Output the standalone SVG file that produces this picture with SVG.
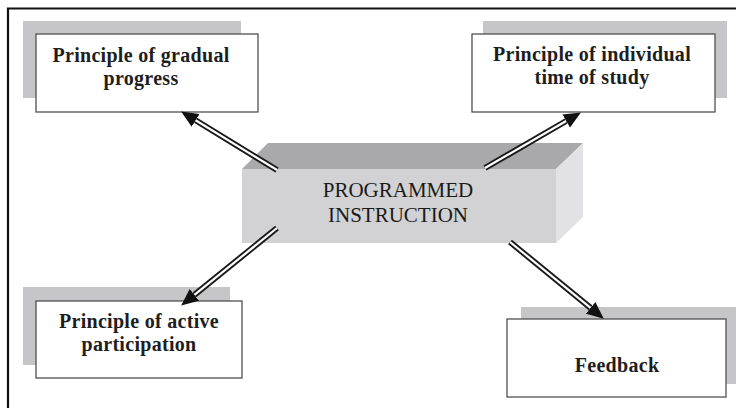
<svg xmlns="http://www.w3.org/2000/svg" width="736" height="408" viewBox="0 0 736 408">
<defs>
<style>
.shadow{fill:#c6c6c8}
.box{fill:#ffffff;stroke:#505050;stroke-width:1.3}
.lbl{font-family:"Liberation Serif","Times New Roman",serif;font-weight:bold;font-size:20px;letter-spacing:0.3px;fill:#1e1e1e;text-anchor:middle}
.ctr{font-family:"Liberation Serif","Times New Roman",serif;font-size:21px;fill:#1a1a1a;text-anchor:middle}
.outer{stroke:#1a1a1a;stroke-width:6;fill:none}
.inner{stroke:#ffffff;stroke-width:2.2;fill:none}
</style>
<marker id="head" markerUnits="userSpaceOnUse" markerWidth="17" markerHeight="16" viewBox="0 -8 17 16" refX="0" refY="0" orient="auto">
<path d="M0,-7.5 L17,0 L0,7.5 z" fill="#111"/>
</marker>
</defs>
<rect width="736" height="408" fill="#ffffff"/>
<path d="M8,408 V8.5 H736" fill="none" stroke="#111" stroke-width="2.2"/>

<g id="center">
<polygon points="242,169 268,143 583,143 556,169" fill="#a9a9ab"/>
<polygon points="556,169 583,143 583,217 556,243" fill="#e2e2e4"/>
<rect x="242" y="169" width="314" height="74" fill="#d2d2d4"/>
<text class="ctr" x="398" y="197">PROGRAMMED</text>
<text class="ctr" x="398" y="222">INSTRUCTION</text>
</g>

<g id="gradual">
<rect class="shadow" x="23" y="21" width="218" height="77"/>
<rect class="box" x="36" y="34" width="222" height="78"/>
<text class="lbl" x="141" y="62">Principle of gradual</text>
<text class="lbl" x="141" y="85">progress</text>
</g>

<g id="individual">
<rect class="shadow" x="483" y="21" width="244" height="77"/>
<rect class="box" x="472" y="34" width="243" height="78"/>
<text class="lbl" x="592" y="61">Principle of individual</text>
<text class="lbl" x="592" y="84">time of study</text>
</g>

<g id="active">
<rect class="shadow" x="23" y="287" width="207" height="78"/>
<rect class="box" x="36" y="301" width="206" height="77"/>
<text class="lbl" x="139" y="328">Principle of active</text>
<text class="lbl" x="139" y="351">participation</text>
</g>

<g id="feedback">
<rect class="shadow" x="521" y="307" width="215" height="77"/>
<rect class="box" x="507" y="319" width="219" height="78"/>
<text class="lbl" x="617" y="372">Feedback</text>
</g>

<g id="connectors">
<g>
<line class="outer" x1="277" y1="170" x2="195.6" y2="120.3"/>
<line class="inner" x1="277" y1="170" x2="195.6" y2="120.3" marker-end="url(#head)"/>
</g>
<g>
<line class="outer" x1="485" y1="168" x2="566.2" y2="121"/>
<line class="inner" x1="485" y1="168" x2="566.2" y2="121" marker-end="url(#head)"/>
</g>
<g>
<line class="outer" x1="277" y1="228" x2="194.4" y2="294.9"/>
<line class="inner" x1="277" y1="228" x2="194.4" y2="294.9" marker-end="url(#head)"/>
</g>
<g>
<line class="outer" x1="510" y1="242" x2="590.6" y2="307.9"/>
<line class="inner" x1="510" y1="242" x2="590.6" y2="307.9" marker-end="url(#head)"/>
</g>
</g>
</svg>
